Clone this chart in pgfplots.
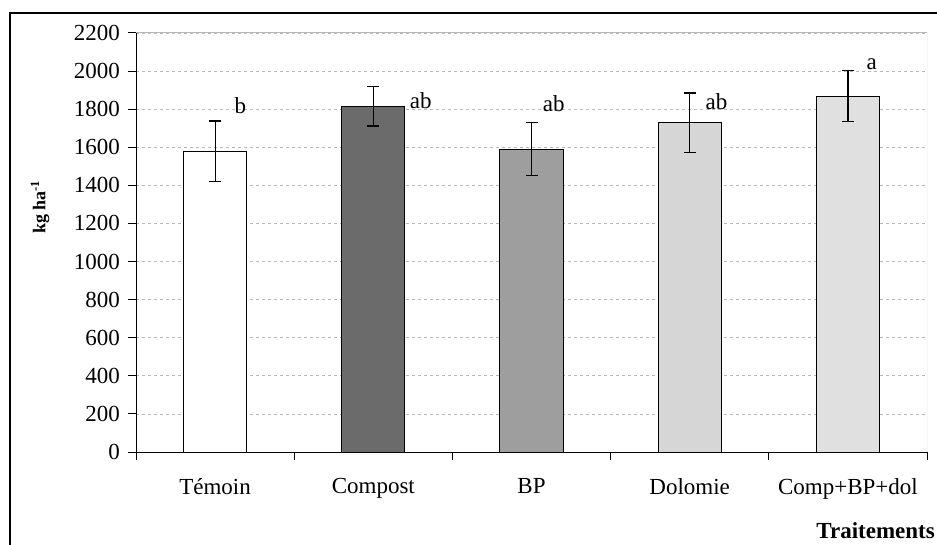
\documentclass[border=0pt]{standalone}
\usepackage{pgfplots}
\pgfplotsset{compat=1.18}
\usepackage{fontspec}
\setmainfont{Liberation Serif}
\definecolor{cCompost}{gray}{0.42}
\definecolor{cBP}{gray}{0.62}
\definecolor{cDol}{gray}{0.84}
\definecolor{cComp}{gray}{0.88}
\definecolor{gridc}{gray}{0.72}
\begin{document}
\begin{tikzpicture}[x=1pt,y=1pt]
\useasboundingbox (0,0) rectangle (937,544);
\draw[line width=1.2pt] (10,-20) -- (10,531) -- (960,531);
\begin{axis}[
  at={(136pt,92pt)}, anchor=south west,
  scale only axis, width=791pt, height=419pt,
  xmin=-0.5, xmax=4.5, ymin=0, ymax=2200,
  axis x line*=bottom, axis y line*=left,
  axis line style={line width=1pt, black},
  ytick={0,200,...,2200},
  xtick={-0.5,0.5,...,4.5},
  xticklabels={},
  extra x ticks={0,1,2,3,4},
  extra x tick labels={Témoin,Compost,BP,Dolomie,Comp+BP+dol},
  extra x tick style={major tick length=0pt, xticklabel style={font=\fontsize{23}{26}\selectfont, inner sep=0pt, yshift=-26pt}},
  major tick length=8pt,
  tick align=outside,
  tick style={line width=1pt, black},
  ymajorgrids,
  grid style={gridc, dashed, dash pattern=on 3pt off 3pt, line width=0.8pt},
  /pgf/number format/assume math mode=true,
  /pgf/number format/1000 sep={},
  yticklabel style={font=\fontsize{23}{26}\selectfont, inner sep=0pt, xshift=-8pt},
  every axis plot/.append style={ybar, bar shift=0pt, bar width=0.4, draw=black, line width=1pt,
    error bars/y dir=both, error bars/y explicit,
    error bars/error mark options={rotate=90, mark size=6pt, line width=1.2pt, black},
    error bars/error bar style={line width=1.2pt, black}},
]
\addplot[fill=white] coordinates {(0,1580) +- (0,158)};
\addplot[fill=cCompost] coordinates {(1,1815) +- (0,103)};
\addplot[fill=cBP] coordinates {(2,1590) +- (0,140)};
\addplot[fill=cDol] coordinates {(3,1728) +- (0,157)};
\addplot[fill=cComp] coordinates {(4,1868) +- (0,133)};
\draw[gridc, line width=1pt] (rel axis cs:0,1) -- (rel axis cs:1,1) -- (rel axis cs:1,0);
\node[font=\fontsize{23}{26}\selectfont] at (axis cs:0.16,1821) {b};
\node[font=\fontsize{23}{26}\selectfont] at (axis cs:1.30,1843) {ab};
\node[font=\fontsize{23}{26}\selectfont] at (axis cs:2.14,1827) {ab};
\node[font=\fontsize{23}{26}\selectfont] at (axis cs:3.17,1837) {ab};
\node[font=\fontsize{23}{26}\selectfont] at (axis cs:4.15,2037) {a};
\end{axis}
\node[rotate=90, font=\bfseries\fontsize{18}{20}\selectfont] at (40,337) {kg ha\textsuperscript{-1}};
\node[anchor=east, font=\bfseries\fontsize{23}{26}\selectfont, inner sep=0pt] at (935,13) {Traitements};
\end{tikzpicture}
\end{document}
